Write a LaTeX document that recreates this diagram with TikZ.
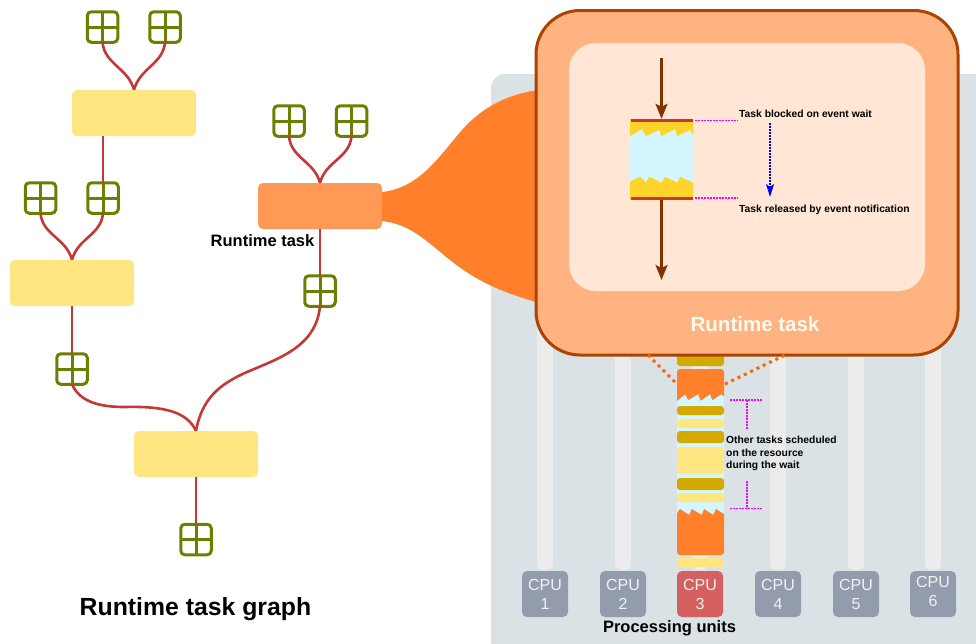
\documentclass[tikz,border=0pt]{standalone}
\usepackage{fontspec}
\setmainfont{Liberation Sans}
\usepackage{xcolor}
\usetikzlibrary{arrows.meta}

\definecolor{panelgrey}{HTML}{DAE2E5}
\definecolor{lanegrey}{HTML}{ECECEC}
\definecolor{cpugrey}{HTML}{929CAC}
\definecolor{cpured}{HTML}{D46060}
\definecolor{edgered}{HTML}{C83737}
\definecolor{datagreen}{HTML}{6C8000}
\definecolor{paleyellow}{HTML}{FFE680}
\definecolor{darkyellow}{HTML}{D4AA00}
\definecolor{waityellow}{HTML}{FFD42A}
\definecolor{waitblue}{HTML}{D5F6FF}
\definecolor{taskorange}{HTML}{FF9955}
\definecolor{funnelorange}{HTML}{FF7F2A}
\definecolor{zoomorange}{HTML}{FFB380}
\definecolor{zoompale}{HTML}{FFE6D5}
\definecolor{zoomedge}{HTML}{AA4400}
\definecolor{flowbrown}{HTML}{803300}
\definecolor{linkmagenta}{HTML}{FF00FF}
\definecolor{guideorange}{HTML}{FF6600}
\definecolor{waitarrow}{HTML}{0000FF}

\tikzset{
    task/.style={rectangle, rounded corners=5, minimum width=124, minimum height=46, inner sep=0, fill=paleyellow},
    datablock/.style={rectangle, draw=datagreen, line width=3, rounded corners=4, minimum size=30.5, inner sep=0, outer sep=0,
        path picture={
            \draw[datagreen, line width=3] (path picture bounding box.north) -- (path picture bounding box.south);
            \draw[datagreen, line width=3] (path picture bounding box.west) -- (path picture bounding box.east);
        }},
    edge/.style={draw=edgered, line width=2.6},
    cpu/.style={rectangle, rounded corners=5, minimum size=46, inner sep=0, fill=cpugrey, text=white!95!black, align=center,
        font=\fontsize{16}{19}\selectfont},
    note/.style={right, inner sep=0, font=\bfseries\fontsize{10.3}{12.7}\selectfont, align=left},
    title/.style={inner sep=0, font=\bfseries\fontsize{16.5}{19}\selectfont},
    evlink/.style={draw=linkmagenta, line width=1.5, dash pattern=on 1.5pt off 1.5pt},
    flow/.style={draw=flowbrown, line width=2.4, -{Stealth[length=15,width=12,inset=3]}},
    guide/.style={draw=guideorange, line width=3, dash pattern=on 3pt off 4pt},
}

\begin{document}
\begin{tikzpicture}[x=1pt,y=-1pt]
    \useasboundingbox (0,0) rectangle (976,643);

    % Processing units panel
    \fill[panelgrey, rounded corners=14] (491,74) rectangle (1000,643+30);
    \foreach \x in {545,623,700,778,856,933} {
        \fill[lanegrey] (\x-8,320) [rounded corners=6] -- (\x-8,570) -- (\x+8,570) [sharp corners] -- (\x+8,320) -- cycle;
    }

    % Task stack on the third unit
    \fill[waitblue] (677,394) rectangle (724,516);
    \foreach \top/\bot in {354/366,406/415,431/443,478/490} {
        \fill[darkyellow, rounded corners=3] (677,\top) rectangle (724,\bot);
    }
    \foreach \top/\bot in {419/428,447/474,493/502,558/567} {
        \fill[paleyellow, rounded corners=3] (677,\top) rectangle (724,\bot);
    }
    \fill[funnelorange] (677,401) [rounded corners=3] -- (677,369) -- (724,369) [sharp corners] -- (724,396.7) -- (721.7,394) -- (712.3,400) -- (710,394)
        -- (700.7,400.7) -- (698.3,394) -- (688.3,400) -- (685,394.3) -- cycle;
    \fill[funnelorange] (677,513.3) -- (680,509) -- (689.3,515) -- (691.7,509) -- (701.7,515) -- (704,509)
        -- (713.3,515) -- (716,509) -- (724,514) [rounded corners=3] -- (724,555) -- (677,555) [sharp corners] -- cycle;

    % Processing units
    \foreach \i/\x/\col/\dep in {1/545/cpugrey/0pt,2/623/cpugrey/0pt,3/700/cpured/0pt,4/778/cpugrey/0pt,5/856/cpugrey/0pt,6/933/cpugrey/5pt} {
        \node[cpu, fill=\col, text depth=\dep] (cpu\i) at (\x,594) {CPU\\\i};
    }
    \node[title] (unitslbl) at (669.5,628) {Processing units};

    % Funnel towards the zoomed task
    \fill[funnelorange] (382,192) .. controls (420,188) and (440,155) .. (462,130) .. controls (482,107) and (510,93) .. (540,90)
        -- (540,303) .. controls (500,292) and (475,280) .. (450,260) .. controls (425,240) and (410,224) .. (382,221) -- cycle;

    % Zoomed task
    \node[rectangle, draw=zoomedge, line width=3, fill=zoomorange, rounded corners=44, minimum width=422, minimum height=344.5, inner sep=0] (rtzoom) at (747,182.75) {};
    \node[rectangle, fill=zoompale, rounded corners=27, minimum width=356, minimum height=248, inner sep=0] (rtinner) at (747,167) {};
    \node[inner sep=0, text=white!95!orange, font=\bfseries\fontsize{20.5}{24}\selectfont] (rtzoomlbl) at (755,324) {Runtime task};

    % Blocked task
    \node[rectangle, minimum width=63, minimum height=81, inner sep=0, fill=waitblue] (waitblk) at (661.5,159.5) {};
    \fill[waityellow] (630,119) -- (693,119) -- (693,135) -- (690,130) -- (677.3,136) -- (675,129.3) -- (661.3,136) -- (659.3,130)
        -- (646,136) -- (641.7,129.3) -- (630,136) -- cycle;
    \fill[waityellow] (630,200) -- (693,200) -- (693,182.7) -- (680,176.7) -- (677.3,182.7) -- (665,176.7) -- (661.7,182.7) -- (649.3,176.7)
        -- (646,182.7) -- (640,176.7) -- (630,181.7) -- cycle;
    \fill[edgered] (630.5,119) rectangle (692.5,122);
    \fill[edgered] (630.5,197) rectangle (692.5,200);

    \coordinate (flowin) at (661.5,58);
    \coordinate (flowout) at (661.5,280);
    \draw[flow] (flowin) -- (waitblk.north);
    \draw[flow] (waitblk.south) -- (flowout);

    \node[note] (blockedlbl) at (739,114) {Task blocked on event wait};
    \node[note] (releasedlbl) at (739,210) {Task released by event notification};
    \coordinate (blockedend) at (738,120.5);
    \coordinate (releasedend) at (738,198);
    \coordinate (waitstart) at (770,123);
    \coordinate (waitend) at (770,197);
    \draw[evlink] (695,120.5) -- (blockedend);
    \draw[evlink] (695,198) -- (releasedend);
    \draw[draw=waitarrow, line width=1.5, dash pattern=on 1.5pt off 1.5pt, -{Stealth[length=13,width=8,inset=3,fill=waitarrow]}] (waitstart) -- (waitend);

    % Zoom guides on the stack
    \draw[guide] (648,355) -- (677,384);
    \draw[guide] (725,384) -- (785,355);

    % Other tasks note
    \node[note] (otherlbl) at (726,453.5) {Other tasks scheduled\\on the resource\\during the wait};
    \draw[evlink] (730,400) -- (763,400);
    \draw[evlink] (747,400) -- (747,430);
    \draw[evlink] (747,481) -- (747,508.5);
    \draw[evlink] (730,508.5) -- (763,508.5);

    % Task graph
    \node[task] (t1) at (134,113) {};
    \node[task] (t2) at (72,283) {};
    \node[task] (t3) at (196,454) {};
    \node[task, fill=taskorange] (t4) at (320,206) {};

    \node[datablock] (d1) at (102.5,27) {};
    \node[datablock] (d2) at (165,27) {};
    \node[datablock] (d3) at (40.5,198) {};
    \node[datablock] (d4) at (103,198) {};
    \node[datablock] (d5) at (72,369) {};
    \node[datablock] (d6) at (196,539.5) {};
    \node[datablock] (d7) at (289,121) {};
    \node[datablock] (d8) at (351.5,121) {};
    \node[datablock] (d9) at (320,291) {};

    \draw[edge] (d1.south) .. controls +(2,22) and +(-6,-22) .. (t1.north);
    \draw[edge] (d2.south) .. controls +(-2,22) and +(6,-22) .. (t1.north);
    \draw[edge] (d3.south) .. controls +(2,22) and +(-6,-22) .. (t2.north);
    \draw[edge] (d4.south) .. controls +(-2,22) and +(6,-22) .. (t2.north);
    \draw[edge] (d7.south) .. controls +(2,22) and +(-6,-22) .. (t4.north);
    \draw[edge] (d8.south) .. controls +(-2,22) and +(6,-22) .. (t4.north);
    \draw[edge] (d4.north |- t1.south) -- (d4.north);
    \draw[edge] (t2.south) -- (d5.north);
    \draw[edge] (t4.south) -- (d9.north);
    \draw[edge] (t3.south) -- (d6.north);
    \draw[edge] (d5.south) .. controls +(8,18) and (100,407) .. (125,407) .. controls (165,406) and (187,412) .. (t3.north);
    \draw[edge] (d9.south) .. controls +(-4,40) and (280,358) .. (247,372) .. controls (220,384) and (202,398) .. (t3.north);

    \node[title, anchor=east] (rtlbl) at (314.5,240.5) {Runtime task};
    \node[inner sep=0, font=\bfseries\fontsize{24.8}{29}\selectfont] (graphlbl) at (195.5,609) {Runtime task graph};
\end{tikzpicture}
\end{document}
